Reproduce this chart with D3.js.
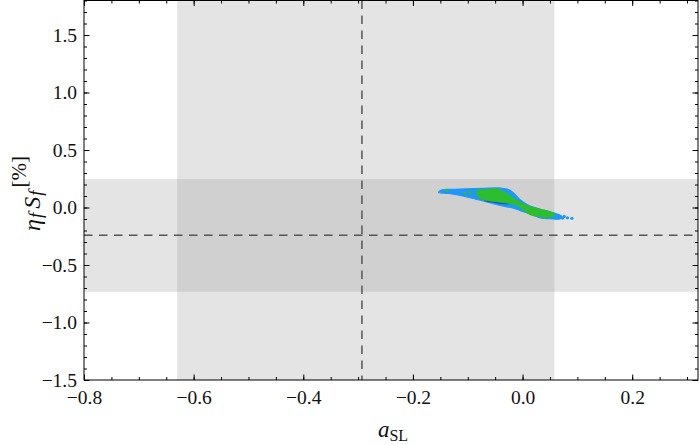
<!DOCTYPE html>
<html>
<head>
<meta charset="utf-8">
<script src="https://cdn.jsdelivr.net/npm/d3@7"></script>
<style>
  body { margin: 0; background: #fff; }
</style>
</head>
<body>
<svg id="chart" width="700" height="445"></svg>
<script>
// axis ticks
var xMajor = [-0.8, -0.6, -0.4, -0.2, 0.0, 0.2];
var yMajor = [-1.5, -1.0, -0.5, 0.0, 0.5, 1.0, 1.5];

// experimental bands: [low, central, high]
var xBand = [-0.63, -0.293, 0.058];
var yBand = [-0.733, -0.241, 0.247];

// outline of the scan region
var blueRegion = [
  [-0.153, 0.137], [-0.148, 0.152], [-0.13, 0.158], [-0.10, 0.162], [-0.07, 0.167],
  [-0.045, 0.170], [-0.035, 0.165], [-0.023, 0.150], [-0.012, 0.105], [-0.004, 0.065],
  [0.005, 0.035], [0.014, 0.012], [0.032, -0.015], [0.05, -0.038], [0.068, -0.066],
  [0.072, -0.082], [0.068, -0.100], [0.05, -0.097], [0.032, -0.090], [0.014, -0.056],
  [-0.005, -0.025], [-0.017, -0.005], [-0.041, 0.018], [-0.06, 0.042], [-0.085, 0.072],
  [-0.109, 0.100], [-0.135, 0.122], [-0.153, 0.130]
];
var greenRegion = [
  [-0.084, 0.144], [-0.065, 0.155], [-0.047, 0.163], [-0.029, 0.122], [-0.011, 0.063],
  [0.014, 0.008], [0.05, -0.036], [0.059, -0.060], [0.055, -0.080], [0.038, -0.080],
  [0.014, -0.064], [-0.011, 0.020], [-0.047, 0.049], [-0.078, 0.080]
];
var darkRegion = [
  [-0.07, 0.066], [-0.05, 0.054], [-0.03, 0.040], [-0.022, 0.032], [-0.032, 0.029],
  [-0.05, 0.040], [-0.07, 0.058]
];
var bluePoints = [[0.076, -0.078], [0.082, -0.090], [0.090, -0.094], [0.073, -0.092]];
var greenPoints = [[-0.105, 0.122], [-0.138, 0.150], [-0.095, 0.133], [0.040, -0.086]];

var FONT = "'Liberation Serif', 'DejaVu Serif', serif";
var svg = d3.select("#chart");
var L = 84, R = 698, T = 0.5, B = 380;

var x = d3.scaleLinear().domain([-0.8, 0.32]).range([L, R]);
var y = d3.scaleLinear().domain([-1.5, 1.8]).range([B, T]);

// bands
var g = svg.append("g");
g.append("rect").attr("x", x(xBand[0])).attr("y", T)
  .attr("width", x(xBand[2]) - x(xBand[0])).attr("height", B - T).attr("fill", "#e4e4e4");
g.append("rect").attr("x", L).attr("y", y(yBand[2]))
  .attr("width", R - L).attr("height", y(yBand[0]) - y(yBand[2])).attr("fill", "#e4e4e4");
g.append("rect").attr("x", x(xBand[0])).attr("y", y(yBand[2]))
  .attr("width", x(xBand[2]) - x(xBand[0])).attr("height", y(yBand[0]) - y(yBand[2]))
  .attr("fill", "#d0d0d0");

g.append("line").attr("x1", x(xBand[1])).attr("x2", x(xBand[1])).attr("y1", T).attr("y2", B)
  .attr("stroke", "#555").attr("stroke-width", 1.5).attr("stroke-dasharray", "8.5,6.5");
g.append("line").attr("x1", L).attr("x2", R).attr("y1", y(yBand[1])).attr("y2", y(yBand[1]))
  .attr("stroke", "#555").attr("stroke-width", 1.5).attr("stroke-dasharray", "8.5,6.5");

// scan points
var line = d3.line().x(function(d){ return x(d[0]); }).y(function(d){ return y(d[1]); })
  .curve(d3.curveCatmullRomClosed.alpha(0.5));

svg.append("path").datum(blueRegion).attr("d", line)
  .attr("fill", "#1e96fa").attr("stroke", "#1e96fa").attr("stroke-width", 1.2);
svg.selectAll(".bp").data(bluePoints).enter().append("circle")
  .attr("cx", function(d){ return x(d[0]); }).attr("cy", function(d){ return y(d[1]); })
  .attr("r", 1.6).attr("fill", "#1e96fa");
svg.append("path").datum(darkRegion).attr("d", line)
  .attr("fill", "#1a3bc8");
svg.append("path").datum(greenRegion).attr("d", line)
  .attr("fill", "#2dbe2d").attr("stroke", "#2dbe2d").attr("stroke-width", 0.8);
svg.selectAll(".gp").data(greenPoints).enter().append("circle")
  .attr("cx", function(d){ return x(d[0]); }).attr("cy", function(d){ return y(d[1]); })
  .attr("r", 1.6).attr("fill", "#2dbe2d");

// frame + ticks
var fmt = d3.format(".1f");
var xMinor = d3.range(-0.8, 0.321, 0.05).map(function(v){ return +v.toFixed(2); });
var yMinor = d3.range(-1.5, 1.801, 0.1).map(function(v){ return +v.toFixed(1); });

function styleAxis(sel){
  sel.attr("font-family", FONT).attr("font-size", 19);
  sel.select(".domain").remove();
  sel.selectAll("line").attr("stroke", "#000");
  sel.selectAll("text").attr("fill", "#111")
    .style("font-family", FONT).style("font-size", "19.5px");
}

svg.append("g").attr("transform", "translate(0," + B + ")")
  .call(d3.axisBottom(x).tickValues(xMinor).tickSize(-3).tickFormat("")).call(styleAxis);
svg.append("g").attr("transform", "translate(0," + B + ")")
  .call(d3.axisBottom(x).tickValues(xMajor).tickSize(-5.5).tickPadding(10).tickFormat(fmt))
  .call(styleAxis);
svg.append("g").attr("transform", "translate(0," + T + ")")
  .call(d3.axisTop(x).tickValues(xMinor).tickSize(-3).tickFormat("")).call(styleAxis);
svg.append("g").attr("transform", "translate(0," + T + ")")
  .call(d3.axisTop(x).tickValues(xMajor).tickSize(-5.5).tickFormat("")).call(styleAxis);

svg.append("g").attr("transform", "translate(" + L + ",0)")
  .call(d3.axisLeft(y).tickValues(yMinor).tickSize(-3).tickFormat("")).call(styleAxis);
svg.append("g").attr("transform", "translate(" + L + ",0)")
  .call(d3.axisLeft(y).tickValues(yMajor).tickSize(-5.5).tickPadding(7).tickFormat(fmt))
  .call(styleAxis);
svg.append("g").attr("transform", "translate(" + R + ",0)")
  .call(d3.axisRight(y).tickValues(yMinor).tickSize(-3).tickFormat("")).call(styleAxis);
svg.append("g").attr("transform", "translate(" + R + ",0)")
  .call(d3.axisRight(y).tickValues(yMajor).tickSize(-5.5).tickFormat("")).call(styleAxis);

svg.append("rect").attr("x", L).attr("y", T).attr("width", R - L).attr("height", B - T)
  .attr("fill", "none").attr("stroke", "#000").attr("stroke-width", 1);

// axis titles
var xt = svg.append("text").attr("x", 393).attr("y", 437).attr("text-anchor", "middle")
  .style("font-family", FONT).style("font-size", "23px").attr("fill", "#111");
xt.append("tspan").style("font-style", "italic").text("a");
xt.append("tspan").attr("dy", 4).style("font-size", "16px").text("SL");

var yt = svg.append("text").attr("transform", "translate(40,231) rotate(-90)")
  .attr("text-anchor", "start").style("font-family", FONT).style("font-size", "24px")
  .attr("fill", "#111");
yt.append("tspan").style("font-style", "italic").text("η");
yt.append("tspan").attr("dy", 2).attr("dx", 1).style("font-size", "19px").style("font-style", "italic").text("f");
yt.append("tspan").attr("dy", -2).attr("dx", 4).style("font-style", "italic").text("S");
yt.append("tspan").attr("dy", 2).attr("dx", 1).style("font-size", "19px").style("font-style", "italic").text("f");
yt.append("tspan").attr("dy", -16).attr("dx", 3).style("font-size", "21px").text("[%]");
</script>
</body>
</html>
